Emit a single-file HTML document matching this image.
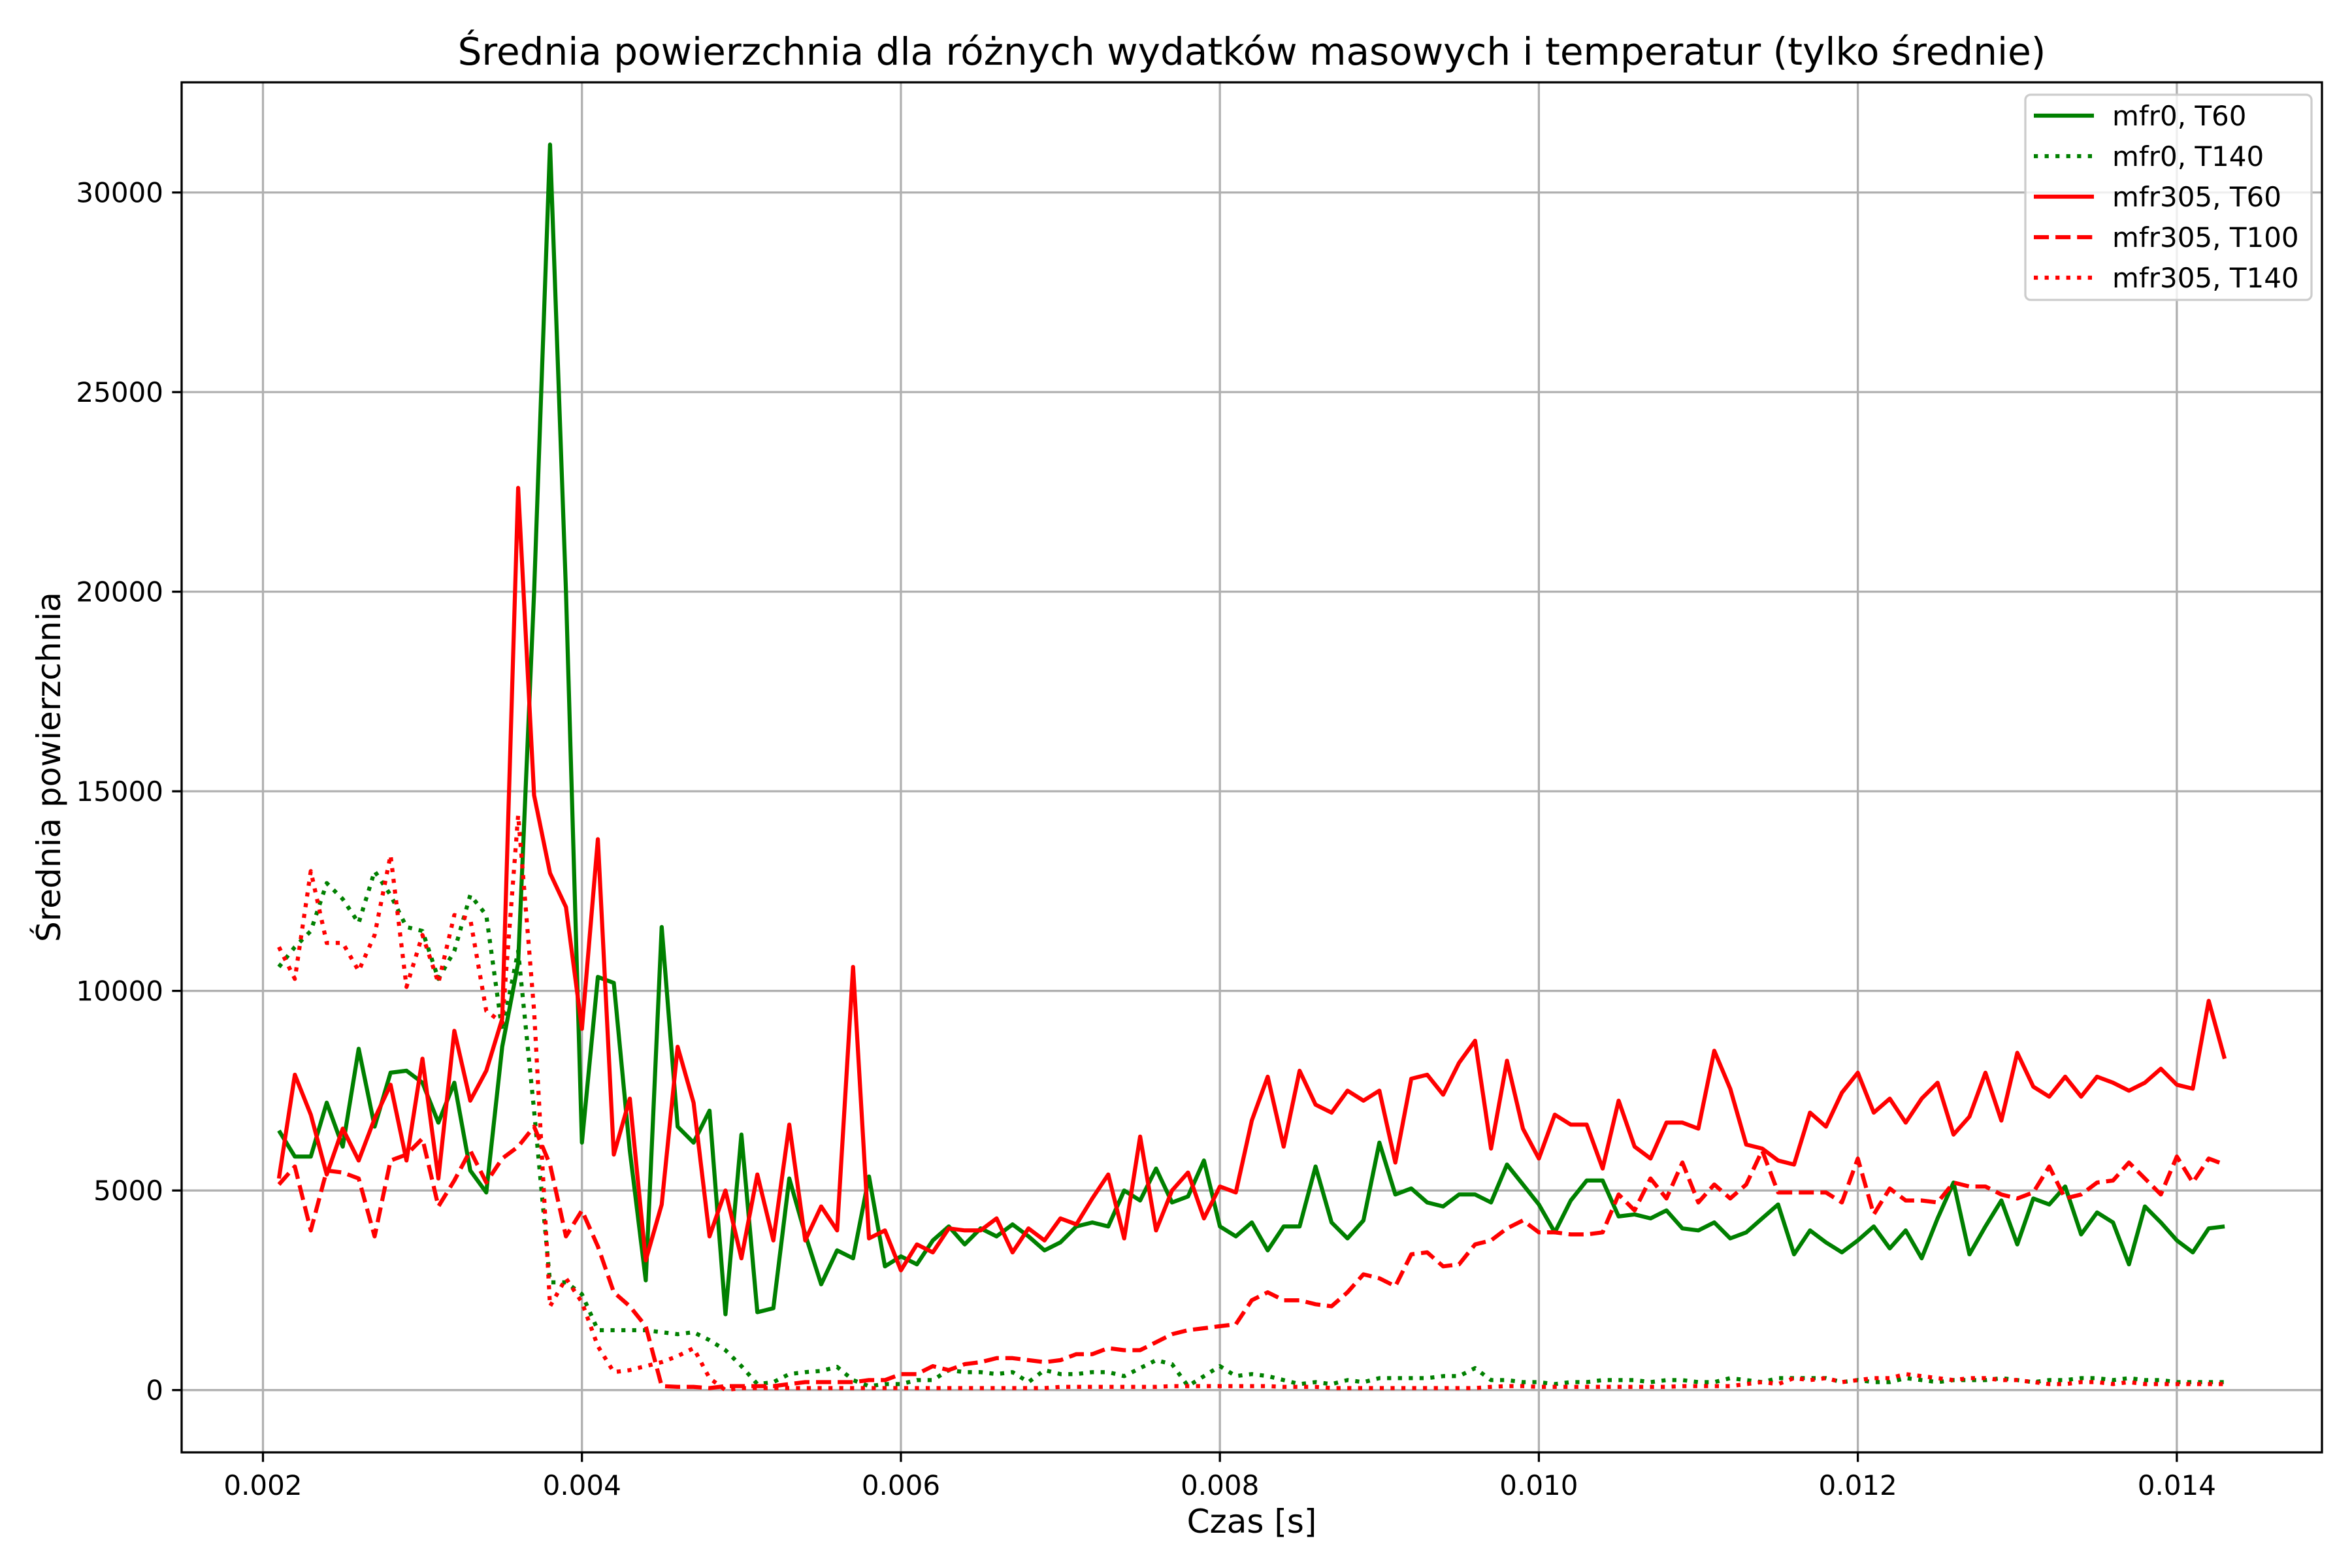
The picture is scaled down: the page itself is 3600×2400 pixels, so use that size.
<!DOCTYPE html>
<html><head><meta charset="utf-8"><style>
html,body{margin:0;padding:0;background:#fff;}
svg{display:block;font-family:"DejaVu Sans","Liberation Sans",sans-serif;}
</style></head><body>
<svg id="chart" width="3600" height="2400" viewBox="0 0 3600 2400" xmlns="http://www.w3.org/2000/svg">
<rect width="3600" height="2400" fill="#fff"/>
<g id="grid"></g>
<g id="series"></g>
<g id="axes"></g>
<text x="1916" y="99" font-size="58" text-anchor="middle">Średnia powierzchnia dla różnych wydatków masowych i temperatur (tylko średnie)</text>
<text x="1916" y="2346" font-size="50" text-anchor="middle">Czas [s]</text>
<text x="0" y="0" font-size="50" text-anchor="middle" transform="translate(92,1174) rotate(-90)">Średnia powierzchnia</text>
<g id="legend"></g>
</svg>
<script>
const xTicks = [0.002,0.004,0.006,0.008,0.010,0.012,0.014];
const xTickLabels = ["0.002","0.004","0.006","0.008","0.010","0.012","0.014"];
const yTicks = [0,5000,10000,15000,20000,25000,30000];
const yTickLabels = ["0","5000","10000","15000","20000","25000","30000"];
const tStart = 0.0021;
const tStep = 0.0001;
const seriesNames = ["mfr0, T60","mfr0, T140","mfr305, T60","mfr305, T100","mfr305, T140"];
const mfr0T60 = [6500,5850,5850,7200,6100,8550,6600,7950,8000,7700,6700,7700,5500,4950,8600,10700,20000,31200,20000,6200,10350,10200,6000,2750,11600,6600,6200,7000,1900,6400,1950,2050,5300,3900,2650,3500,3300,5350,3100,3350,3150,3750,4100,3650,4050,3850,4150,3850,3500,3700,4100,4200,4100,5000,4750,5550,4700,4850,5750,4100,3850,4200,3500,4100,4100,5600,4200,3800,4250,6200,4900,5050,4700,4600,4900,4900,4700,5650,5150,4650,3950,4750,5250,5250,4350,4400,4300,4500,4050,4000,4200,3800,3950,4300,4650,3400,4000,3700,3450,3750,4100,3550,4000,3300,4300,5200,3400,4100,4750,3650,4800,4650,5100,3900,4450,4200,3150,4600,4200,3750,3450,4050,4100];
const mfr0T140 = [10600,11100,11500,12700,12300,11700,13000,12400,11600,11500,10300,11000,12400,11900,9000,11000,7000,2700,2700,2400,1500,1500,1500,1500,1450,1400,1450,1250,1000,600,150,200,400,450,480,580,250,100,150,150,250,250,500,450,450,400,450,200,500,400,400,450,450,350,550,750,650,100,350,600,350,400,350,250,150,200,150,250,200,300,300,300,300,350,350,550,250,250,200,200,150,200,200,250,250,250,200,250,250,200,200,300,250,200,300,300,300,300,200,250,200,200,300,250,200,250,250,250,300,250,200,250,250,300,300,250,300,250,250,200,200,200,200];
const mfr305T60 = [5300,7900,6900,5400,6550,5750,6800,7650,5750,8300,5300,9000,7250,8000,9300,22600,14900,12950,12100,9050,13800,5900,7300,3250,4650,8600,7200,3850,5000,3300,5400,3750,6650,3750,4600,4000,10600,3800,4000,3000,3650,3450,4050,4000,4000,4300,3450,4050,3750,4300,4150,4800,5400,3800,6350,4000,5000,5450,4300,5100,4950,6750,7850,6100,8000,7150,6950,7500,7250,7500,5700,7800,7900,7400,8200,8750,6050,8250,6550,5800,6900,6650,6650,5550,7250,6100,5800,6700,6700,6550,8500,7550,6150,6050,5750,5650,6950,6600,7450,7950,6950,7300,6700,7300,7700,6400,6850,7950,6750,8450,7600,7350,7850,7350,7850,7700,7500,7700,8050,7650,7550,9750,8300];
const mfr305T100 = [5150,5600,4000,5500,5450,5300,3850,5750,5900,6300,4600,5250,6000,5200,5800,6100,6600,5650,3850,4500,3600,2450,2100,1600,100,80,80,50,100,100,100,100,150,200,200,200,200,250,250,400,400,600,500,650,700,800,800,750,700,750,900,900,1050,1000,1000,1200,1400,1500,1550,1600,1650,2250,2450,2250,2250,2150,2100,2450,2900,2800,2600,3400,3450,3100,3150,3650,3750,4050,4250,3950,3950,3900,3900,3950,4900,4500,5300,4800,5700,4700,5150,4800,5150,6000,4950,4950,4950,4950,4700,5800,4400,5050,4750,4750,4700,5200,5100,5100,4900,4800,4950,5600,4800,4900,5200,5250,5700,5300,4900,5850,5200,5800,5650];
const mfr305T140 = [11100,10300,13000,11200,11200,10500,11400,13400,10100,11400,10200,11900,11800,9500,9200,14400,9500,2100,2800,2200,1100,450,500,600,700,850,1050,300,0,50,50,50,50,50,50,50,50,50,50,50,50,50,50,50,50,50,50,50,50,80,80,80,80,80,80,80,100,100,100,100,100,100,100,80,80,80,50,50,50,50,50,50,50,50,50,50,80,100,100,80,80,80,80,80,80,80,80,80,100,100,100,100,150,200,150,300,250,300,200,250,300,300,400,350,300,250,300,300,250,250,200,150,150,200,200,150,200,150,150,150,150,150,150];

const L=278,R=3554,T=126,B=2223;
const X0=0.00149,X1=0.01491,Y0=-1560,Y1=32760;
function xs(v){return L+(v-X0)/(X1-X0)*(R-L);}
function ys(v){return B-(v-Y0)/(Y1-Y0)*(B-T);}
const NS="http://www.w3.org/2000/svg";
function mk(tag,attrs,parent){const e=document.createElementNS(NS,tag);for(const k in attrs)e.setAttribute(k,attrs[k]);parent.appendChild(e);return e;}
const grid=document.getElementById('grid'),axes=document.getElementById('axes'),ser=document.getElementById('series'),leg=document.getElementById('legend');

xTicks.forEach((t,i)=>{
  const x=xs(t);
  const g=mk('line',{x1:x,x2:x,y1:T,y2:B,stroke:'#b0b0b0','stroke-width':3.3},grid);
  
  
  const tk=mk('line',{x1:x,x2:x,y1:B,y2:B+14.6,stroke:'#000','stroke-width':3.3},axes);
  
  
  const lb=mk('text',{x:x,y:B+65,'font-size':42,'text-anchor':'middle'},axes);
  lb.textContent=xTickLabels[i];
  
  
});
yTicks.forEach((v,i)=>{
  const y=ys(v);
  const g=mk('line',{x1:L,x2:R,y1:y,y2:y,stroke:'#b0b0b0','stroke-width':3.3},grid);
  
  
  const tk=mk('line',{x1:L-14.6,x2:L,y1:y,y2:y,stroke:'#000','stroke-width':3.3},axes);
  
  
  const lb=mk('text',{x:L-28,y:y+15,'font-size':42,'text-anchor':'end'},axes);
  lb.textContent=yTickLabels[i];
  
  
});
const frame=mk('rect',{x:L,y:T,width:R-L,height:B-T,fill:'none',stroke:'#000','stroke-width':3.3},axes);



const styles=[
 {c:'#008000',d:''},{c:'#008000',d:'6.25 10.3'},{c:'#ff0000',d:''},{c:'#ff0000',d:'23.1 10'},{c:'#ff0000',d:'6.25 10.3'}];
const allSeries=[mfr0T60,mfr0T140,mfr305T60,mfr305T100,mfr305T140];
const snames=['line-mfr0-t60','line-mfr0-t140','line-mfr305-t60','line-mfr305-t100','line-mfr305-t140'];
allSeries.forEach((arr,si)=>{
  const pts=arr.map((v,i)=>xs(tStart+i*tStep).toFixed(1)+','+ys(v).toFixed(1)).join(' ');
  const a={points:pts,fill:'none',stroke:styles[si].c,'stroke-width':6.25,'stroke-linejoin':'round'};
  if(styles[si].d)a['stroke-dasharray']=styles[si].d;
  const p=mk('polyline',a,ser);
  
  
});

const lbox=mk('rect',{x:3100,y:145,width:438,height:314,rx:8,fill:'#fff','fill-opacity':0.8,stroke:'#cccccc','stroke-width':3.3},leg);


seriesNames.forEach((n,i)=>{
  const y=177+i*62;
  const a={x1:3113,x2:3205,y1:y,y2:y,stroke:styles[i].c,'stroke-width':6.25};
  if(styles[i].d)a['stroke-dasharray']=styles[i].d;
  const ln=mk('line',a,leg);
  
  
  const t=mk('text',{x:3233,y:y+15,'font-size':42},leg);
  t.textContent=n;
  
  
});
</script>
</body></html>
